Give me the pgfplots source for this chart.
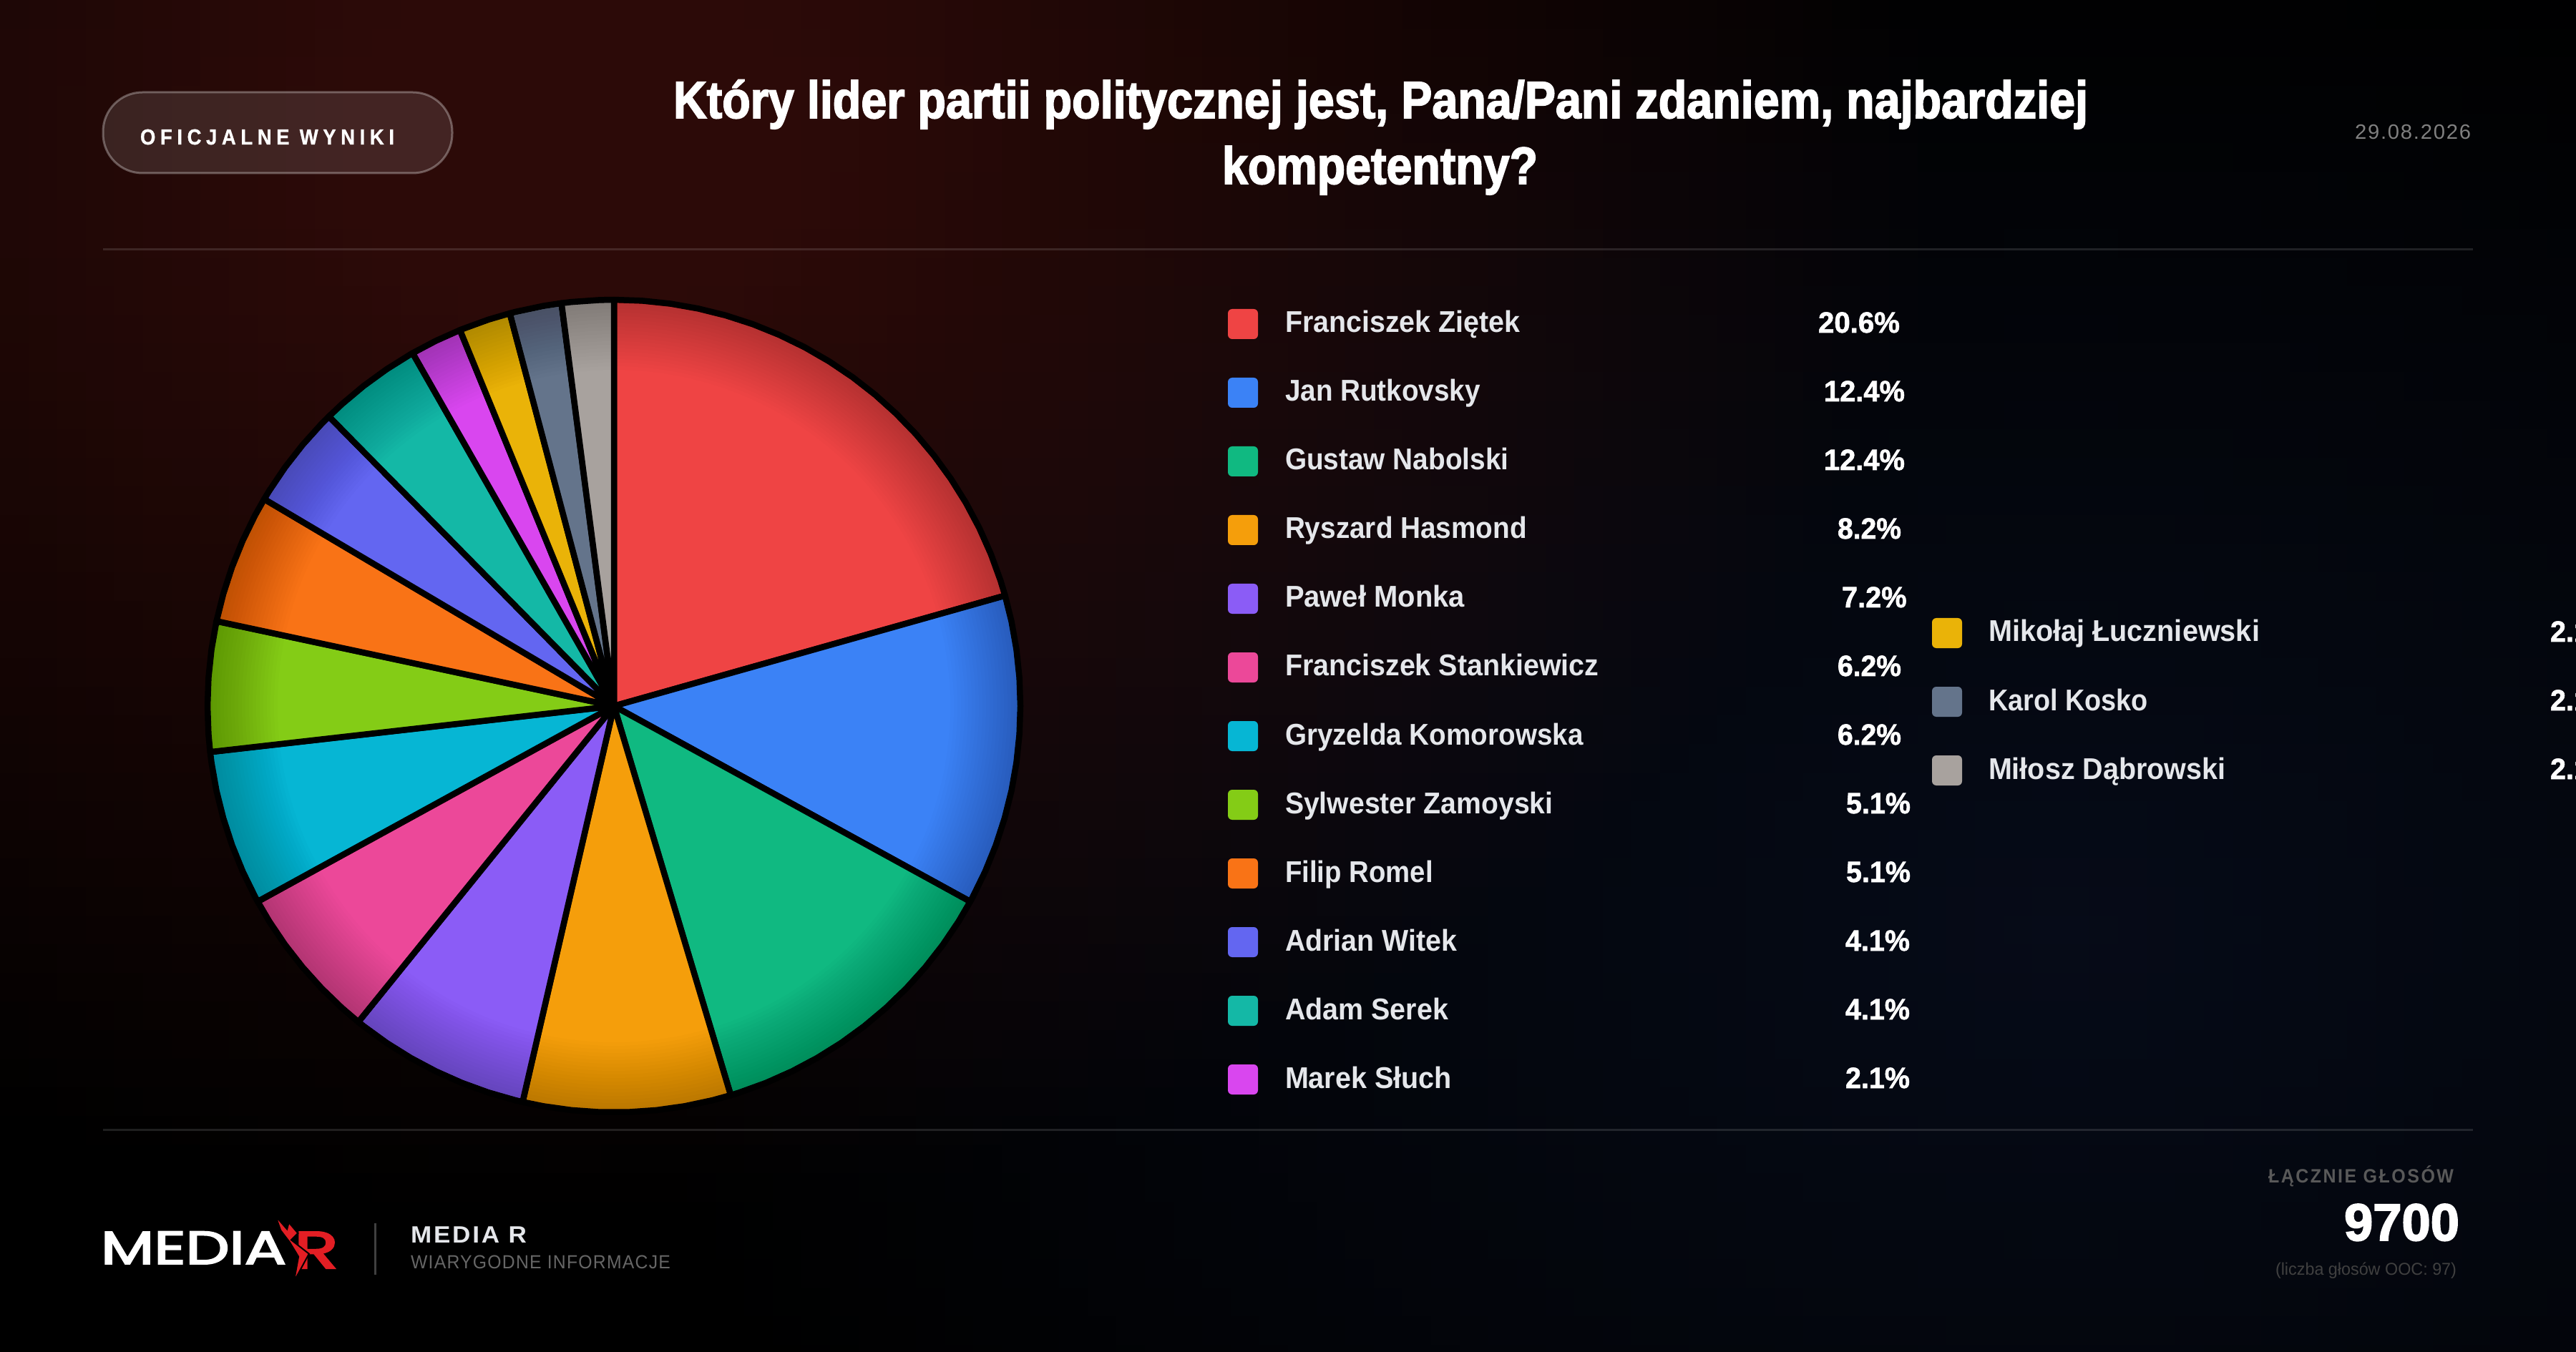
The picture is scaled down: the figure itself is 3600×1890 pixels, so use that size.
\documentclass[border=0pt]{standalone}
\usepackage{graphicx}
\usepackage{fontspec}
\usepackage{pgfplots}
\pgfplotsset{compat=1.18}
\usepgfplotslibrary{polar}
\setmainfont{Liberation Sans}
\newfontfamily\fT{Liberation Sans}[UprightFont=* Bold,FakeBold=2.5]
\newfontfamily\fB{Liberation Sans}[UprightFont=* Bold,FakeBold=1.5]
\newfontfamily\fM{Liberation Sans}[UprightFont=* Bold]
\newfontfamily\fR{Liberation Sans}
\newfontfamily\fPill{Liberation Sans}[UprightFont=* Bold,LetterSpace=24,FakeBold=1]
\newfontfamily\fStat{Liberation Sans}[UprightFont=* Bold,LetterSpace=10]
\newfontfamily\fDate{Liberation Sans}[LetterSpace=6]
\newfontfamily\fBrand{Liberation Sans}[UprightFont=* Bold,LetterSpace=8]
\newfontfamily\fTag{Liberation Sans}[LetterSpace=5]
\newfontfamily\fLogo{Poppins}[FakeBold=3]
\definecolor{c1}{HTML}{EF4444}
\definecolor{c2}{HTML}{3B82F6}
\definecolor{c3}{HTML}{10B981}
\definecolor{c4}{HTML}{F59E0B}
\definecolor{c5}{HTML}{8B5CF6}
\definecolor{c6}{HTML}{EC4899}
\definecolor{c7}{HTML}{06B6D4}
\definecolor{c8}{HTML}{84CC16}
\definecolor{c9}{HTML}{F97316}
\definecolor{c10}{HTML}{6366F1}
\definecolor{c11}{HTML}{14B8A6}
\definecolor{c12}{HTML}{D946EF}
\definecolor{c13}{HTML}{EAB308}
\definecolor{c14}{HTML}{64748B}
\definecolor{c15}{HTML}{A8A29E}
\definecolor{nametxt}{HTML}{E5E7EB}
\definecolor{logored}{HTML}{E31E24}
\newsavebox\tbox
\newcommand\fit[2]{\sbox\tbox{#2}\pgfmathsetmacro\rr{#1*0.2/\the\wd\tbox}\scalebox{\rr}[1]{\usebox\tbox}}
\newcommand\sz[1]{\fontsize{#1pt}{#1pt}\selectfont}
% x, baseline y, width (all in reference pixels), font, colour, text
\newcommand\tx[6]{\node[anchor=base west,inner sep=0pt,outer sep=0pt,text=#5] at (#1,#2) {\fit{#3}{#4#6}};}
% colour, centre y, swatch x, text x, name, name width, value x, value, value width
\newcommand\row[9]{%
  \fill[#1,rounded corners=1.2pt] (#3,#2-21) rectangle (#3+42,#2+21);
  \tx{#4}{#2+12}{#6}{\fM\sz{8.4}}{nametxt}{#5}
  \tx{#7}{#2+12}{#9}{\fB\sz{8.2}}{white}{#8}}
\begin{document}
\begin{tikzpicture}[x=0.2pt,y=-0.2pt]
\path[use as bounding box] (0,0) rectangle (3600,1890);
\begin{scope}
\clip (0,0) rectangle (3600,1890);
\fill[black] (0,0) rectangle (3600,1890);
% page background: two soft glows, painted as a fine mosaic
\foreach \i in {0,...,89}{\foreach \j in {0,...,47}{%
  \pgfmathsetmacro\xx{\i*40}%
  \pgfmathsetmacro\yy{\j*40}%
  \pgfmathsetmacro\dr{sqrt(((\xx+20-800)/1900)^2+((\yy+20-189)/1500)^2)}%
  \pgfmathsetmacro\fr{max(0,min(1,1.2*(1-\dr)))}%
  \pgfmathsetmacro\dn{sqrt(((\xx+20-2880)/2000)^2+((\yy+20-1300)/1400)^2)}%
  \pgfmathsetmacro\fn{max(0,1-\dn)}%
  \pgfmathsetmacro\cr{(44*\fr+6*\fn)/255}%
  \pgfmathsetmacro\cg{(10*\fr+11*\fn)/255}%
  \pgfmathsetmacro\cb{(8*\fr+24*\fn)/255}%
  \definecolor{bgc}{rgb}{\cr,\cg,\cb}%
  \fill[bgc] (\xx,\yy) rectangle (\xx+41,\yy+41);
}}

% rules
\fill[white,opacity=0.12] (144,347.5) rectangle (3456,350.5);
\fill[white,opacity=0.12] (144,1577.5) rectangle (3456,1580.5);

% pill
\draw[fill=white,fill opacity=0.11,draw=white,draw opacity=0.3,line width=0.6pt,rounded corners=11pt] (144,129) rectangle (632,242);
\tx{196}{202}{355}{\fPill\sz{6.1}}{white}{OFICJALNE WYNIKI}

% title
\tx{941}{165}{1977}{\fT\sz{14.6}}{white}{Który lider partii politycznej jest, Pana/Pani zdaniem, najbardziej}
\tx{1708}{257}{441}{\fT\sz{14.6}}{white}{kompetentny?}
\tx{3291}{195}{162}{\fDate\sz{5.8}}{gray}{29.08.2026}

% pie: 2000 1200 1200 800 700 600 600 500 500 400 400 200 200 200 200 of 9700 votes
\begin{axis}[at={(171.6pt,-197.4pt)},anchor=center,scale only axis,width=227.2pt,height=227.2pt,
  xmin=-1,xmax=1,ymin=-1,ymax=1,hide axis,clip=false,
  every axis plot/.append style={data cs=polar,draw=black,line width=1.7pt,line join=round,mark=none}]
\addplot[fill=c1] coordinates {(0,0)(90,1)(86,1)(82,1)(78,1)(74,1)(70,1)(66,1)(62,1)(58,1)(54,1)(50,1)(46,1)(42,1)(38,1)(34,1)(30,1)(26,1)(22,1)(18,1)(15.773,1)(0,0)} -- cycle;
\addplot[fill=c2] coordinates {(0,0)(15.773,1)(12,1)(8,1)(4,1)(0,1)(-4,1)(-8,1)(-12,1)(-16,1)(-20,1)(-24,1)(-28,1)(-28.763,1)(0,0)} -- cycle;
\addplot[fill=c3] coordinates {(0,0)(-28.763,1)(-32,1)(-36,1)(-40,1)(-44,1)(-48,1)(-52,1)(-56,1)(-60,1)(-64,1)(-68,1)(-72,1)(-73.299,1)(0,0)} -- cycle;
\addplot[fill=c4] coordinates {(0,0)(-73.299,1)(-76,1)(-80,1)(-84,1)(-88,1)(-92,1)(-96,1)(-100,1)(-102.99,1)(0,0)} -- cycle;
\addplot[fill=c5] coordinates {(0,0)(-102.99,1)(-104,1)(-108,1)(-112,1)(-116,1)(-120,1)(-124,1)(-128,1)(-128.969,1)(0,0)} -- cycle;
\addplot[fill=c6] coordinates {(0,0)(-128.969,1)(-132,1)(-136,1)(-140,1)(-144,1)(-148,1)(-151.237,1)(0,0)} -- cycle;
\addplot[fill=c7] coordinates {(0,0)(-151.237,1)(-152,1)(-156,1)(-160,1)(-164,1)(-168,1)(-172,1)(-173.505,1)(0,0)} -- cycle;
\addplot[fill=c8] coordinates {(0,0)(-173.505,1)(-176,1)(-180,1)(-184,1)(-188,1)(-192,1)(-192.062,1)(0,0)} -- cycle;
\addplot[fill=c9] coordinates {(0,0)(-192.062,1)(-196,1)(-200,1)(-204,1)(-208,1)(-210.619,1)(0,0)} -- cycle;
\addplot[fill=c10] coordinates {(0,0)(-210.619,1)(-212,1)(-216,1)(-220,1)(-224,1)(-225.464,1)(0,0)} -- cycle;
\addplot[fill=c11] coordinates {(0,0)(-225.464,1)(-228,1)(-232,1)(-236,1)(-240,1)(-240.309,1)(0,0)} -- cycle;
\addplot[fill=c12] coordinates {(0,0)(-240.309,1)(-244,1)(-247.732,1)(0,0)} -- cycle;
\addplot[fill=c13] coordinates {(0,0)(-247.732,1)(-248,1)(-252,1)(-255.155,1)(0,0)} -- cycle;
\addplot[fill=c14] coordinates {(0,0)(-255.155,1)(-256,1)(-260,1)(-262.577,1)(0,0)} -- cycle;
\addplot[fill=c15] coordinates {(0,0)(-262.577,1)(-264,1)(-268,1)(-270,1)(0,0)} -- cycle;
\end{axis}
% soft darkening towards the rim of the pie
\foreach \r in {470,475,...,560}{%
  \fill[black,opacity=0.012,even odd rule] (858,987) circle [radius=113.6pt] (858,987) circle [radius=\r*0.2pt];
}

% legend, first column
\row{c1}{453}{1716}{1796}{Franciszek Ziętek}{328.6}{2541}{20.6\%}{114}
\row{c2}{549}{1716}{1796}{Jan Rutkovsky}{273}{2549}{12.4\%}{113}
\row{c3}{645}{1716}{1796}{Gustaw Nabolski}{312.6}{2549}{12.4\%}{113}
\row{c4}{741}{1716}{1796}{Ryszard Hasmond}{338}{2568}{8.2\%}{89}
\row{c5}{837}{1716}{1796}{Paweł Monka}{251}{2574}{7.2\%}{90.6}
\row{c6}{933}{1716}{1796}{Franciszek Stankiewicz}{438.5}{2568}{6.2\%}{89}
\row{c7}{1029}{1716}{1796}{Gryzelda Komorowska}{416.6}{2568}{6.2\%}{89}
\row{c8}{1125}{1716}{1796}{Sylwester Zamoyski}{374.5}{2580}{5.1\%}{90}
\row{c9}{1221}{1716}{1796}{Filip Romel}{206.7}{2580}{5.1\%}{90}
\row{c10}{1317}{1716}{1796}{Adrian Witek}{240}{2579}{4.1\%}{90}
\row{c11}{1413}{1716}{1796}{Adam Serek}{228}{2579}{4.1\%}{90}
\row{c12}{1509}{1716}{1796}{Marek Słuch}{233}{2579}{2.1\%}{90}
% legend, second column
\row{c13}{885}{2700}{2779}{Mikołaj Łuczniewski}{379}{3564}{2.1\%}{90}
\row{c14}{981}{2700}{2779}{Karol Kosko}{223}{3564}{2.1\%}{90}
\row{c15}{1077}{2700}{2779}{Miłosz Dąbrowski}{331.5}{3564}{2.1\%}{90}

% logo
\tx{141}{1767}{259}{\fLogo\sz{13}}{white}{MEDIA}
\tx{411}{1773}{62}{\fLogo\sz{14.6}}{logored}{R}
\fill[logored,draw=black,line width=0.4pt] (385.2,1700)--(401.1,1718.3)--(403.7,1709)--(416.4,1724)--(406.9,1733.3)--(431.8,1752.7)--(410.7,1791.7)--(417.1,1756.7)--(405,1736.7)--(392.2,1720)--cycle;
\fill[white,opacity=0.25] (523,1710) rectangle (525.5,1782);
\tx{574}{1737}{162}{\fBrand\sz{6.6}}{nametxt}{MEDIA R}
\tx{574}{1773}{363}{\fTag\sz{5.3}}{gray!80!black}{WIARYGODNE INFORMACJE}

% totals
\tx{3170}{1653}{259}{\fStat\sz{5.4}}{gray!70!black}{ŁĄCZNIE GŁOSÓW}
\tx{3276}{1734}{161}{\fT\sz{14.6}}{white}{9700}
\tx{3180}{1782}{253}{\fR\sz{4.8}}{gray!50!black}{(liczba głosów OOC: 97)}
\end{scope}
\end{tikzpicture}
\end{document}
